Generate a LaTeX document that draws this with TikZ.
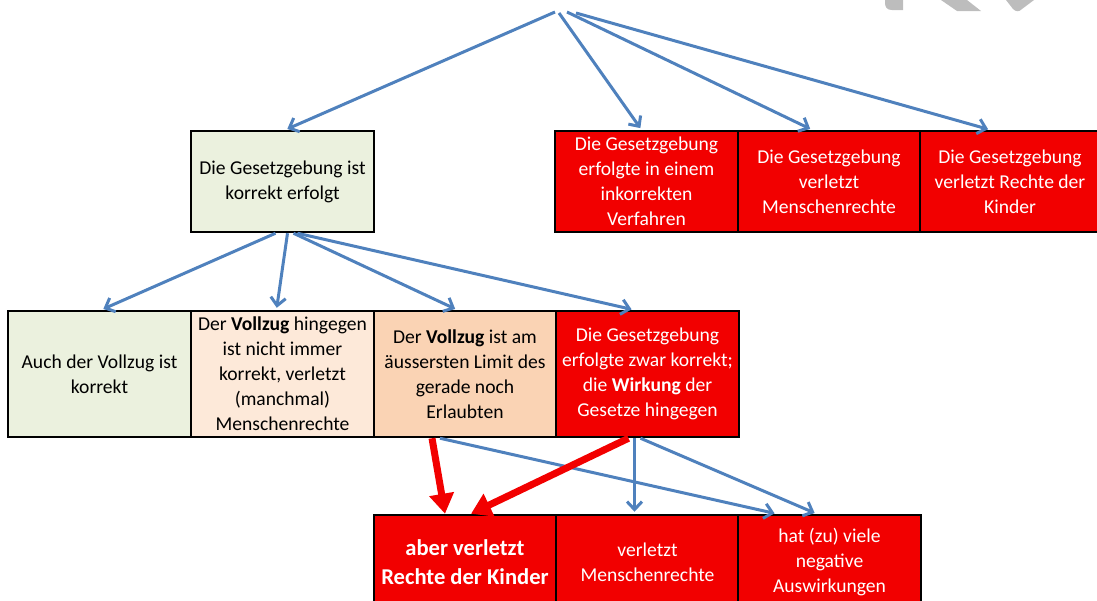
\documentclass[tikz,border=0pt]{standalone}
\usepackage{fontspec}
\setmainfont{Carlito}
\usetikzlibrary{arrows.meta}
\definecolor{blu}{HTML}{4F81BD}
\definecolor{rd}{HTML}{F20000}
\definecolor{grn}{HTML}{EBF1DE}
\definecolor{pchA}{HTML}{FDE9D9}
\definecolor{pchB}{HTML}{FAD3B4}
\definecolor{wm}{HTML}{BDBDBD}
\begin{document}
\begin{tikzpicture}[x=1pt,y=-1pt,
  box/.style={draw=black, line width=2.5pt, inner sep=0pt, align=center,
    font=\fontsize{19.6}{25}\selectfont},
  gbox/.style={box, fill=grn, text=black},
  abox/.style={box, fill=pchA, text=black},
  bbox/.style={box, fill=pchB, text=black},
  rbox/.style={box, fill=rd, text=white},
  barrow/.style={draw=blu, line width=3pt, shorten >=2pt, -{Straight Barb[length=8pt,width=15pt]}},
  rarrow/.style={draw=rd, line width=7pt, -{Triangle[length=20pt,width=24pt]}}]
\useasboundingbox (0,0) rectangle (1097,600);
% watermark fragments
\fill[wm] (885,0) -- (903,0) -- (903,10) -- (892,10) .. controls (887,10) and (885,7) .. (885,3) -- cycle;
\fill[wm] (941,0) -- (967,0) -- (981,11) -- (957,11) -- cycle;
\fill[wm] (1006,0) -- (1034,0) -- (1022,9) .. controls (1019,12) and (1016,12) .. (1013,9) -- cycle;
% top level
\node[gbox, minimum width=183pt, minimum height=101pt] (g) at (282.5,181.5) {Die Gesetzgebung ist\\korrekt erfolgt};
\node[rbox, minimum width=183pt, minimum height=101pt] (r1) at (646.5,181.5) {Die Gesetzgebung\\erfolgte in einem\\inkorrekten\\Verfahren};
\node[rbox, minimum width=182pt, minimum height=101pt] (r2) at (829,181.5) {Die Gesetzgebung\\verletzt\\Menschenrechte};
\node[rbox, minimum width=180pt, minimum height=101pt] (r3) at (1010,181.5) {Die Gesetzgebung\\verletzt Rechte der\\Kinder};
% middle level
\node[gbox, minimum width=183pt, minimum height=126pt] (m1) at (99.5,374) {Auch der Vollzug ist\\korrekt};
\node[abox, minimum width=183pt, minimum height=126pt] (m2) at (282.5,374) {Der \textbf{Vollzug} hingegen\\ist nicht immer\\korrekt, verletzt\\(manchmal)\\Menschenrechte};
\node[bbox, minimum width=182pt, minimum height=126pt] (m3) at (465,374) {Der \textbf{Vollzug} ist am\\äussersten Limit des\\gerade noch\\Erlaubten};
\node[rbox, minimum width=183pt, minimum height=126pt] (m4) at (647.5,374) {Die Gesetzgebung\\erfolgte zwar korrekt;\\die \textbf{Wirkung} der\\Gesetze hingegen};
% bottom level
\node[rbox, minimum width=182pt, minimum height=95pt, font=\fontsize{22.6}{29}\selectfont\bfseries] (b1) at (465,562.5) {aber verletzt\\Rechte der Kinder};
\node[rbox, minimum width=183pt, minimum height=95pt] (b2) at (647.5,562.5) {verletzt\\Menschenrechte};
\node[rbox, minimum width=183pt, minimum height=95pt] (b3) at (829.5,562.5) {hat (zu) viele\\negative\\Auswirkungen};
% apex
\coordinate (s1) at (555,12);
\coordinate (s2) at (559,13);
\coordinate (s3) at (567,12);
\coordinate (s4) at (576,13);
\draw[barrow] (s1) -- ([xshift=3pt]g.north);
\draw[barrow] (s2) -- ([xshift=-5pt]r1.north);
\draw[barrow] (s3) -- ([xshift=-17pt]r2.north);
\draw[barrow] (s4) -- ([xshift=-20pt]r3.north);
% from green
\draw[barrow] ([xshift=-7pt]g.south) -- ([xshift=2pt]m1.north);
\draw[barrow] ([xshift=5pt]g.south) -- ([xshift=-6pt]m2.north);
\draw[barrow] ([xshift=11pt]g.south) -- ([xshift=-8pt]m3.north);
\draw[barrow] ([xshift=15pt]g.south) -- ([xshift=-14pt]m4.north);
% to bottom
\draw[barrow] ([xshift=-25pt]m3.south) -- ([xshift=-53pt]b3.north);
\draw[barrow] ([xshift=-13pt]m4.south) -- ([xshift=-13pt]b2.north);
\draw[barrow] ([xshift=-7pt]m4.south) -- ([xshift=-13pt]b3.north);
\draw[rarrow] ([xshift=-33pt]m3.south) -- ([xshift=-20pt]b1.north);
\draw[rarrow] ([xshift=-19pt]m4.south) -- ([xshift=6pt]b1.north);
\end{tikzpicture}
\end{document}
